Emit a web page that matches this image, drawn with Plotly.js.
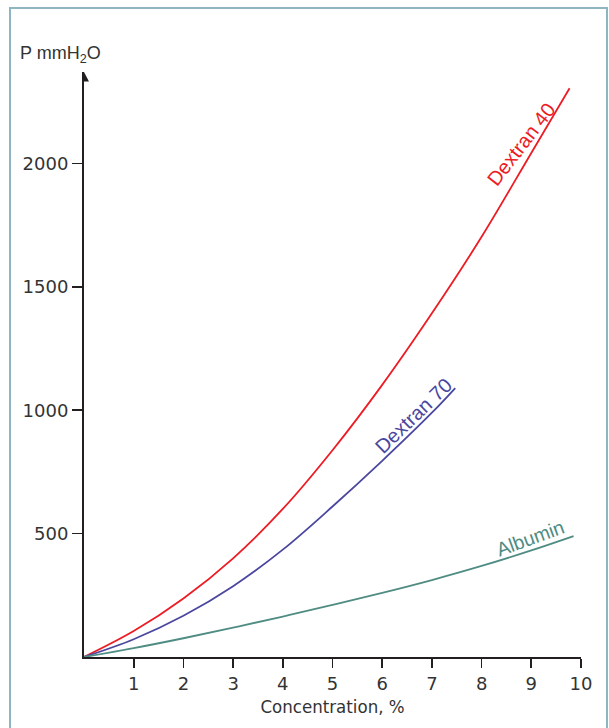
<!DOCTYPE html>
<html>
<head>
<meta charset="utf-8">
<script src="https://cdn.plot.ly/plotly-3.0.1.min.js"></script>
<style>
  html, body { margin: 0; padding: 0; background: #ffffff; }
  #wrap { position: relative; width: 609px; height: 728px; overflow: hidden; }
  #chart { position: absolute; left: 0; top: 0; width: 609px; height: 728px; }
  #frame { position: absolute; left: 9px; top: 7px; width: 595px; height: 740px;
           border: 2px solid #8db6c0; pointer-events: none; }
</style>
</head>
<body>
<div id="wrap">
  <div id="chart"></div>
  <div id="frame"></div>
</div>
<script>
// Concentration (%) and osmotic pressure (mm H2O)
const dextran40X = [0, 1, 2, 3, 4, 5, 6, 7, 8, 9, 9.77];
const dextran40Y = [0, 105, 237, 400, 600, 838, 1103, 1393, 1703, 2043, 2305];

const dextran70X = [0, 1, 2, 3, 4, 5, 6, 7, 7.47];
const dextran70Y = [0, 72, 167, 287, 435, 610, 795, 990, 1090];

const albuminX = [0, 1, 2, 3, 4, 5, 6, 7, 8, 9, 9.85];
const albuminY = [0, 36, 76, 119, 164, 211, 260, 312, 369, 432, 490];

const xTicks = [1, 2, 3, 4, 5, 6, 7, 8, 9, 10];
const yTicks = [500, 1000, 1500, 2000];

const seriesNames = ['Dextran 40', 'Dextran 70', 'Albumin'];
const seriesColors = ['#ED1C24', '#4B479F', '#4F8C83'];

const FONT = 'Liberation Sans, Arial, Helvetica, sans-serif';
const TICKFONT = 'DejaVu Sans, Verdana, sans-serif';
const NARROW = 'DejaVu Sans Condensed, sans-serif';
const axisColor = '#231f20';
const textColor = '#333333';

const traces = [
  [dextran40X, dextran40Y],
  [dextran70X, dextran70Y],
  [albuminX, albuminY]
].map((d, i) => ({
  x: d[0], y: d[1], type: 'scatter', mode: 'lines', name: seriesNames[i],
  line: { color: seriesColors[i], width: 1.8, shape: 'spline', smoothing: 1 },
  hoverinfo: 'skip'
}));

const yTop = 2371;

const layout = {
  width: 609, height: 728,
  margin: { l: 83.5, r: 28, t: 72, b: 71.3, pad: 0 },
  paper_bgcolor: 'rgba(0,0,0,0)',
  plot_bgcolor: 'rgba(0,0,0,0)',
  showlegend: false,
  font: { family: FONT, color: textColor },
  xaxis: {
    range: [0, 10], tickvals: xTicks, ticktext: xTicks.map(String),
    showgrid: false, zeroline: false, showline: true,
    linecolor: axisColor, linewidth: 2,
    ticks: 'outside', ticklen: 9, tickwidth: 1.6, tickcolor: axisColor,
    tickfont: { family: TICKFONT, size: 18, color: textColor },
    title: { text: 'Concentration, %', font: { family: NARROW, size: 18.5, color: textColor }, standoff: 7 },
    fixedrange: true
  },
  yaxis: {
    range: [0, yTop], tickvals: yTicks, ticktext: yTicks.map(String),
    showgrid: false, zeroline: false, showline: true,
    linecolor: axisColor, linewidth: 2,
    ticks: 'outside', ticklen: 10, tickwidth: 1.6, tickcolor: axisColor,
    tickfont: { family: TICKFONT, size: 18, color: textColor },
    fixedrange: true
  },
  shapes: [
    { type: 'path', xref: 'x', yref: 'y',
      path: 'M -0.1 ' + (yTop - 38) + ' L 0.1 ' + (yTop - 38) + ' L 0 ' + yTop + ' Z',
      fillcolor: axisColor, line: { width: 0 } }
  ],
  annotations: [
    { xref: 'paper', yref: 'paper', x: -0.133, y: 1.0 + 17 / 584.7, xanchor: 'left', yanchor: 'middle',
      text: 'P mmH<sub>2</sub>O', showarrow: false,
      font: { family: FONT, size: 18, color: textColor } },
    { x: 8.8, y: 2080, text: seriesNames[0], showarrow: false, textangle: -52.5,
      font: { family: FONT, size: 20, color: seriesColors[0] } },
    { x: 6.63, y: 975, text: seriesNames[1], showarrow: false, textangle: -44,
      font: { family: FONT, size: 20, color: seriesColors[1] } },
    { x: 8.98, y: 482, text: seriesNames[2], showarrow: false, textangle: -20,
      font: { family: FONT, size: 19.5, color: seriesColors[2] } }
  ]
};

Plotly.newPlot('chart', traces, layout, { displayModeBar: false, staticPlot: true });
</script>
</body>
</html>
